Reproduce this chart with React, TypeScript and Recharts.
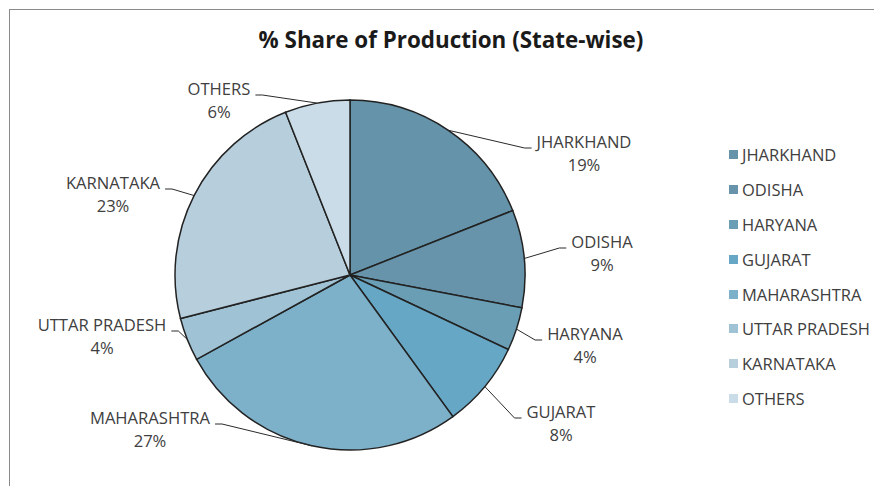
import React from "react";
import { PieChart, Pie, Cell, Legend } from "recharts";

const states = [
  "JHARKHAND",
  "ODISHA",
  "HARYANA",
  "GUJARAT",
  "MAHARASHTRA",
  "UTTAR PRADESH",
  "KARNATAKA",
  "OTHERS",
];
const shares = [19, 9, 4, 8, 27, 4, 23, 6];

const colors = [
  "#6593A9",
  "#6794AA",
  "#699EB5",
  "#66A7C5",
  "#7DB1CA",
  "#9FC3D5",
  "#B7CFDD",
  "#CADCE7",
];

// where each data label's text block sits, relative to the pie centre
const labelOffsets = [
  [234, -122],
  [252, -22],
  [235, 70],
  [211, 148],
  [-200, 154],
  [-248, 61],
  [-237, -81],
  [-131, -175],
];

const data = states.map((name, i) => ({ name, value: shares[i] }));

const FONT = "'Open Sans', sans-serif";
const LABEL_SIZE = 16.6;
const RAD = Math.PI / 180;

let ctx: CanvasRenderingContext2D | null = null;
const textWidth = (s: string) => {
  if (!ctx) {
    ctx = document.createElement("canvas").getContext("2d");
  }
  if (!ctx) return s.length * 9;
  ctx.font = `${LABEL_SIZE}px 'Open Sans'`;
  return ctx.measureText(s).width;
};

const renderLabel = (props: any) => {
  const { cx, cy, midAngle, outerRadius, index, value } = props;
  const name = states[index];
  const [dx, dy] = labelOffsets[index];
  const tx = cx + dx;
  const ty = cy + dy;
  const sx = cx + outerRadius * Math.cos(-midAngle * RAD);
  const sy = cy + outerRadius * Math.sin(-midAngle * RAD);
  const w = textWidth(name);
  const right = dx > 0;
  const ex = right ? tx - w / 2 - 5 : tx + w / 2 + 5;
  const bx = right ? ex - 7 : ex + 7;
  const ly = ty - 5;
  return (
    <g key={`lbl-${index}`}>
      <polyline
        points={`${sx},${sy} ${bx},${ly} ${ex},${ly}`}
        fill="none"
        stroke="#2a2a2a"
        strokeWidth={1}
      />
      <text
        x={tx}
        y={ty - 5.5}
        textAnchor="middle"
        fill="#404040"
        fontSize={LABEL_SIZE}
        fontFamily={FONT}
      >
        {name}
      </text>
      <text
        x={tx}
        y={ty + 17.5}
        textAnchor="middle"
        fill="#404040"
        fontSize={LABEL_SIZE}
        fontFamily={FONT}
      >
        {`${value}%`}
      </text>
    </g>
  );
};

const renderLegend = () => (
  <div>
    {states.map((s, i) => (
      <div
        key={s}
        style={{
          height: 34.9,
          display: "flex",
          alignItems: "center",
          fontFamily: FONT,
          fontSize: 16.5,
          color: "#404040",
          whiteSpace: "nowrap",
        }}
      >
        <span
          style={{
            width: 9,
            height: 9,
            background: colors[i],
            marginRight: 4,
            display: "inline-block",
          }}
        />
        {s}
      </div>
    ))}
  </div>
);

export default function App() {
  return (
    <div
      style={{
        position: "relative",
        top: 1,
        left: 1,
        width: 880,
        height: 490,
        border: "1px solid #8a8a8a",
        boxSizing: "border-box",
        background: "#fff",
      }}
    >
      <div
        style={{
          position: "absolute",
          top: 14,
          left: 0,
          width: 882,
          textAlign: "center",
          fontFamily: FONT,
          fontWeight: 700,
          fontSize: 22.4,
          color: "#1a1a1a",
        }}
      >
        % Share of Production (State-wise)
      </div>
      <PieChart width={878} height={488} style={{ position: "absolute", top: -1, left: -1 }}>
        <Pie
          data={data}
          dataKey="value"
          nameKey="name"
          cx={336}
          cy={261}
          outerRadius={175}
          startAngle={90}
          endAngle={-270}
          stroke="#222"
          strokeWidth={1.5}
          label={renderLabel}
          labelLine={false}
          isAnimationActive={false}
        >
          {data.map((d, i) => (
            <Cell key={d.name} fill={colors[i]} />
          ))}
        </Pie>
        <Legend
          content={renderLegend}
          layout="vertical"
          wrapperStyle={{ left: 720, top: 128, width: 160 }}
        />
      </PieChart>
    </div>
  );
}
